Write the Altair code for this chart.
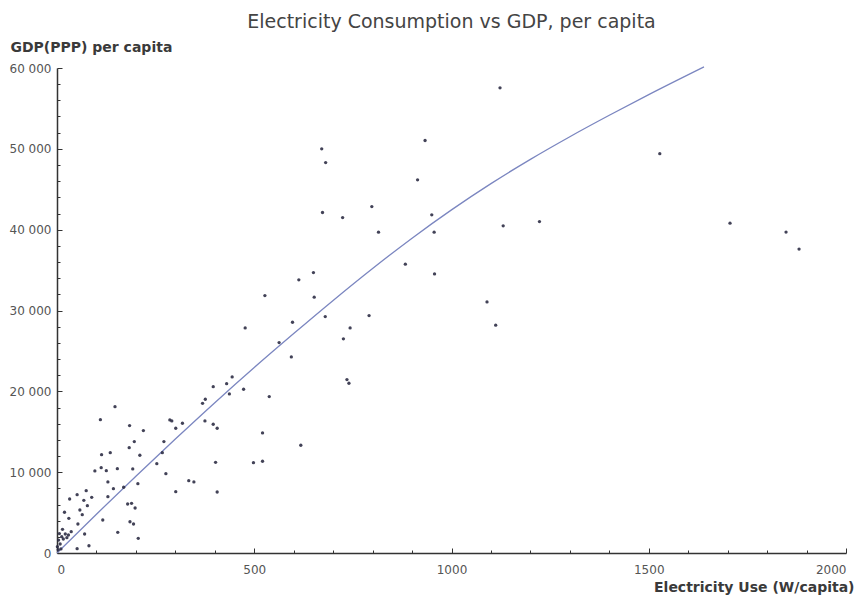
import altair as alt
import pandas as pd

# Electricity use (W/capita) and GDP(PPP) per capita
elec = [1123, 1528, 1706, 1848, 1881,
        671, 681, 933, 914, 673, 724, 798, 815, 950, 956, 1131, 1223, 883, 957, 650,
        613, 527, 652, 1090, 680, 791, 1112, 477, 597, 743, 726, 563, 594, 735, 740,
        444, 430, 396, 437, 473, 538, 376, 369, 375, 396, 406, 521, 618, 402, 498,
        521, 406,
        147, 110, 184, 219, 183, 196, 113, 135, 210, 112, 96, 125, 153, 192, 129,
        205, 143, 169, 129, 74, 51, 32, 68, 88, 19, 30, 58, 77, 64, 53, 70, 81, 51,
        116, 154, 179, 189, 198, 185, 194, 206, 253, 276, 267, 271, 286, 291, 301,
        318, 301, 334, 347,
        4, 12, 21, 29, 36, 8, 1, 16, 14, 6, 3, 25, 10]
gdp = [57550, 49400, 40800, 39700, 37600,
       50000, 48300, 51030, 46160, 42120, 41500, 42860, 39690, 41830, 39690, 40470,
       41000, 35730, 34530, 34690, 33790, 31850, 31650, 31060, 29250, 29370, 28180,
       27850, 28550, 27850, 26490, 26030, 24260, 21450, 21000, 21780, 20950, 20580,
       19680, 20260, 19350, 19020, 18520, 16340, 15930, 15430, 14850, 13330, 11220,
       11180, 11350, 7550,
       18100, 16500, 15760, 15140, 13030, 13780, 12170, 12410, 12090, 10560, 10150,
       10190, 10430, 10400, 8790, 8580, 7960, 8130, 6970, 7710, 7220, 6680, 6520,
       6890, 5040, 4290, 5320, 5850, 4740, 3590, 2350, 900, 530, 4080, 2560, 6060,
       6150, 5570, 3870, 3590, 1820, 11050, 9810, 12410, 13780, 16460, 16340, 15430,
       16050, 7590, 8950, 8790,
       1600, 2020, 2350, 2230, 2640, 1110, 780, 1730, 2930, 2400, 400, 1900, 500]

# fitted curve
fit_x = [0, 100, 200, 300, 400, 500, 600, 700, 800, 900, 1000, 1100, 1200, 1300,
         1400, 1500, 1640]
fit_y = [0, 4800, 9500, 14100, 18600, 22950, 27150, 31250, 35200, 38950, 42450,
         45700, 48700, 51500, 54150, 56700, 60130]

x_major = [0, 500, 1000, 1500, 2000]
x_minor = [0, 100, 200, 300, 400, 500, 600, 700, 800, 900, 1000, 1100, 1200, 1300,
           1400, 1500, 1600, 1700, 1800, 1900, 2000]
y_major = [0, 10000, 20000, 30000, 40000, 50000, 60000]
y_minor = [0, 2000, 4000, 6000, 8000, 10000, 12000, 14000, 16000, 18000, 20000,
           22000, 24000, 26000, 28000, 30000, 32000, 34000, 36000, 38000, 40000,
           42000, 44000, 46000, 48000, 50000, 52000, 54000, 56000, 58000, 60000]

W, H = 789, 485
FONT = "DejaVu Sans"

pts = pd.DataFrame({"elec": elec, "gdp": gdp})
fit = pd.DataFrame({"elec": fit_x, "gdp": fit_y})

xs = alt.Scale(domain=[0, 2000], nice=False)
ys = alt.Scale(domain=[0, 60000], nice=False)

yfmt = "replace(format(datum.value, ','), ',', ' ')"
xfmt = "format(datum.value, 'd')"

points = alt.Chart(pts).mark_circle(size=11, color="#2e2e45", opacity=0.9).encode(
    x=alt.X("elec:Q", scale=xs, axis=alt.Axis(
        orient="bottom", values=x_major, ticks=False, domain=True,
        domainColor="#333333", domainWidth=1.5, grid=False,
        labelFont=FONT, labelFontSize=12, labelColor="#555555", labelPadding=11,
        labelExpr=xfmt,
        title="Electricity Use (W/capita)", titleFont=FONT, titleFontSize=14,
        titleFontWeight="bold", titleColor="#3a3a3a", titleAnchor="end",
        titleAlign="right", titleX=797, titleY=34, titleBaseline="middle")),
    y=alt.Y("gdp:Q", scale=ys, axis=alt.Axis(
        orient="left", values=y_major, ticks=False, domain=True,
        domainColor="#333333", domainWidth=1.5, grid=False,
        labelFont=FONT, labelFontSize=12, labelColor="#555555", labelPadding=6,
        labelExpr=yfmt,
        title="GDP(PPP) per capita", titleFont=FONT, titleFontSize=14,
        titleFontWeight="bold", titleColor="#3a3a3a", titleAngle=0,
        titleAlign="left", titleX=-47, titleY=-21, titleBaseline="middle")),
)

tick_x = {"condition": {"test": "datum.value % 500 === 0", "value": 5}, "value": 3}
tick_y = {"condition": {"test": "datum.value % 10000 === 0", "value": 5}, "value": 3}

line = alt.Chart(fit).mark_line(color="#7b86c0", strokeWidth=1.3, interpolate="monotone").encode(
    x=alt.X("elec:Q", scale=xs, axis=alt.Axis(
        orient="top", offset=-H, values=x_minor, labels=False, domain=False,
        grid=False, title=None, tickColor="#333333", tickWidth=1, tickSize=tick_x)),
    y=alt.Y("gdp:Q", scale=ys, axis=alt.Axis(
        orient="right", offset=-W, values=y_minor, labels=False, domain=False,
        grid=False, title=None, tickColor="#333333", tickWidth=1, tickSize=tick_y)),
)

chart = alt.layer(line, points).resolve_axis(x="independent", y="independent").properties(
    width=W, height=H,
    title=alt.TitleParams("Electricity Consumption vs GDP, per capita", font=FONT,
                          fontSize=19, fontWeight="normal", color="#444444",
                          anchor="middle", offset=8),
    autosize=alt.AutoSizeParams(type="none"),
    padding={"left": 49, "top": 60, "right": 8, "bottom": 45},
).configure_view(stroke=None)

chart.save("out.html", embed_options={"renderer": "svg", "actions": False})
